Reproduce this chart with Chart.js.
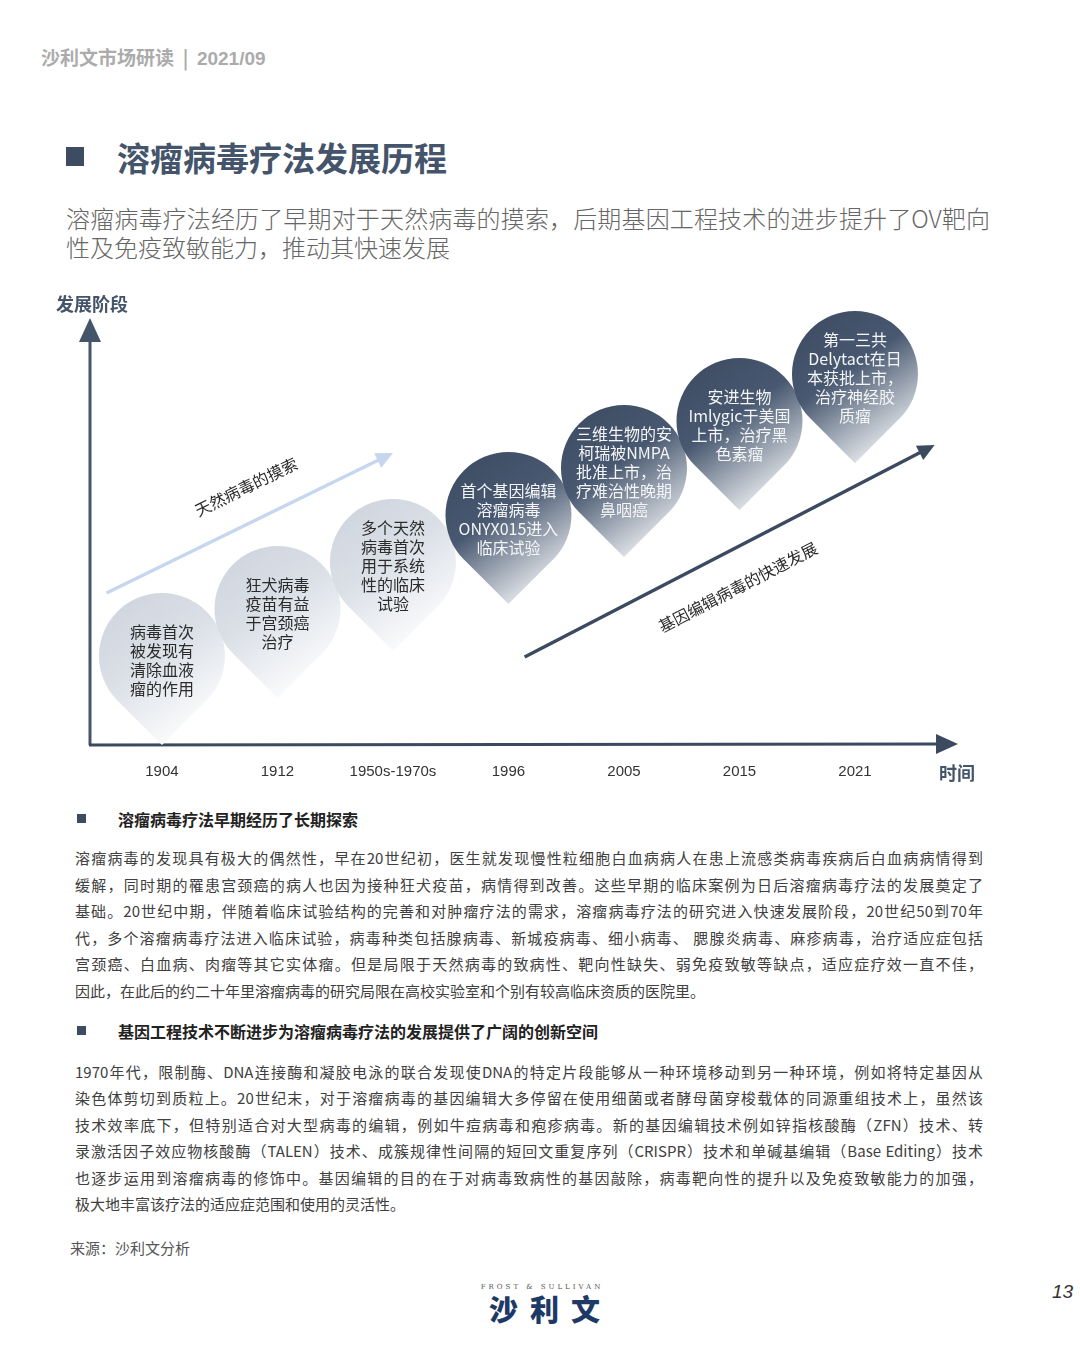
<!DOCTYPE html>
<html>
<head>
<meta charset="utf-8">
<script src="https://cdn.jsdelivr.net/npm/chart.js@4.4.0/dist/chart.umd.min.js"></script>
<style>
  html, body { margin:0; padding:0; background:#fff; }
  body { width:1080px; height:1348px; position:relative; overflow:hidden; font-family:"Noto Sans CJK SC","Noto Sans",sans-serif; }
  .abs { position:absolute; white-space:nowrap; }
  .jl { display:block; text-align:justify; text-align-last:justify; white-space:normal; }
  .last { text-align-last:left; }
  #chartWrap { position:absolute; left:0; top:280px; width:1080px; height:520px; }
</style>
</head>
<body>
<div class="abs" style="left:41px;top:44px;font-size:19px;line-height:26px;color:#ababab;font-weight:bold;">沙利文市场研读&nbsp;&nbsp;|&nbsp;&nbsp;<span style="font-family:'Liberation Sans',sans-serif;">2021/09</span></div>

<div class="abs" style="left:66px;top:147px;width:18px;height:19px;background:#3e4c62;"></div>
<div class="abs" style="left:117px;top:136px;font-size:33px;line-height:42px;color:#44546a;font-weight:bold;">溶瘤病毒疗法发展历程</div>

<div class="abs" style="left:66px;top:203px;width:924px;font-size:24px;line-height:29px;color:#666;font-weight:300;white-space:normal;">
  <span class="jl">溶瘤病毒疗法经历了早期对于天然病毒的摸索，后期基因工程技术的进步提升了OV靶向</span>
  <span class="jl last">性及免疫致敏能力，推动其快速发展</span>
</div>

<div id="chartWrap"><canvas id="c" width="1080" height="520"></canvas></div>

<div class="abs" style="left:56px;top:290px;font-size:18px;line-height:26px;color:#44546a;font-weight:bold;">发展阶段</div>
<div class="abs" style="left:939px;top:759px;font-size:18px;line-height:26px;color:#44546a;font-weight:bold;">时间</div>

<div class="abs" style="left:77px;top:814px;width:9px;height:9px;background:#3e4c62;"></div>
<div class="abs" style="left:118px;top:807px;font-size:16px;line-height:24px;color:#222;font-weight:bold;">溶瘤病毒疗法早期经历了长期探索</div>
<div class="abs" style="left:75px;top:845px;width:908px;font-size:15px;line-height:26.5px;color:#404040;white-space:normal;">
  <span class="jl">溶瘤病毒的发现具有极大的偶然性，早在20世纪初，医生就发现慢性粒细胞白血病病人在患上流感类病毒疾病后白血病病情得到</span>
  <span class="jl">缓解，同时期的罹患宫颈癌的病人也因为接种狂犬疫苗，病情得到改善。这些早期的临床案例为日后溶瘤病毒疗法的发展奠定了</span>
  <span class="jl">基础。20世纪中期，伴随着临床试验结构的完善和对肿瘤疗法的需求，溶瘤病毒疗法的研究进入快速发展阶段，20世纪50到70年</span>
  <span class="jl">代，多个溶瘤病毒疗法进入临床试验，病毒种类包括腺病毒、新城疫病毒、细小病毒、 腮腺炎病毒、麻疹病毒，治疗适应症包括</span>
  <span class="jl">宫颈癌、白血病、肉瘤等其它实体瘤。但是局限于天然病毒的致病性、靶向性缺失、弱免疫致敏等缺点，适应症疗效一直不佳，</span>
  <span class="jl last">因此，在此后的约二十年里溶瘤病毒的研究局限在高校实验室和个别有较高临床资质的医院里。</span>
</div>

<div class="abs" style="left:77px;top:1026px;width:9px;height:9px;background:#3e4c62;"></div>
<div class="abs" style="left:118px;top:1019px;font-size:16px;line-height:24px;color:#222;font-weight:bold;">基因工程技术不断进步为溶瘤病毒疗法的发展提供了广阔的创新空间</div>
<div class="abs" style="left:75px;top:1059px;width:908px;font-size:15px;line-height:26.4px;color:#404040;white-space:normal;">
  <span class="jl">1970年代，限制酶、DNA连接酶和凝胶电泳的联合发现使DNA的特定片段能够从一种环境移动到另一种环境，例如将特定基因从</span>
  <span class="jl">染色体剪切到质粒上。20世纪末，对于溶瘤病毒的基因编辑大多停留在使用细菌或者酵母菌穿梭载体的同源重组技术上，虽然该</span>
  <span class="jl">技术效率底下，但特别适合对大型病毒的编辑，例如牛痘病毒和疱疹病毒。新的基因编辑技术例如锌指核酸酶（ZFN）技术、转</span>
  <span class="jl">录激活因子效应物核酸酶（TALEN）技术、成簇规律性间隔的短回文重复序列（CRISPR）技术和单碱基编辑（Base Editing）技术</span>
  <span class="jl">也逐步运用到溶瘤病毒的修饰中。基因编辑的目的在于对病毒致病性的基因敲除，病毒靶向性的提升以及免疫致敏能力的加强，</span>
  <span class="jl last">极大地丰富该疗法的适应症范围和使用的灵活性。</span>
</div>

<div class="abs" style="left:70px;top:1236px;font-size:15px;line-height:24px;color:#555;">来源：沙利文分析</div>

<div class="abs" style="left:472px;top:1282px;width:140px;text-align:center;font-family:'DejaVu Serif',serif;font-size:7px;line-height:10px;letter-spacing:3px;color:#555;">FROST &amp; SULLIVAN</div>
<div class="abs" style="left:477px;top:1290px;width:126px;text-align:center;font-size:29px;line-height:36px;letter-spacing:12px;text-indent:12px;color:#1d3a66;font-weight:900;">沙利文</div>
<div class="abs" style="left:1052px;top:1280px;font-family:'Liberation Sans',sans-serif;font-style:italic;font-size:19px;line-height:24px;color:#333;">13</div>

<script>
// ---------- data ----------
const years = ['1904', '1912', '1950s-1970s', '1996', '2005', '2015', '2021'];
const stages = [1, 2, 3, 4, 5, 6, 7];
const pinTexts = [
  ['病毒首次', '被发现有', '清除血液', '瘤的作用'],
  ['狂犬病毒', '疫苗有益', '于宫颈癌', '治疗'],
  ['多个天然', '病毒首次', '用于系统', '性的临床', '试验'],
  ['首个基因编辑', '溶瘤病毒', 'ONYX015进入', '临床试验'],
  ['三维生物的安', '柯瑞被NMPA', '批准上市，治', '疗难治性晚期', '鼻咽癌'],
  ['安进生物', 'Imlygic于美国', '上市，治疗黑', '色素瘤'],
  ['第一三共', 'Delytact在日', '本获批上市，', '治疗神经胶', '质瘤']
];
const pinEra = ['natural', 'natural', 'natural', 'engineered', 'engineered', 'engineered', 'engineered'];
const trendLabels = ['天然病毒的摸索', '基因编辑病毒的快速发展'];
const trendStartX = [-0.48, 3.14];
const trendStartY = [2.34, 0.98];
const trendEndX = [2.0, 6.69];
const trendEndY = [5.32, 5.49];

// ---------- drawing helpers ----------
function arrowHead(ctx, x1, y1, x2, y2, len, half, color) {
  const a = Math.atan2(y2 - y1, x2 - x1);
  ctx.save();
  ctx.fillStyle = color;
  ctx.beginPath();
  ctx.moveTo(x2, y2);
  ctx.lineTo(x2 - len * Math.cos(a) + half * Math.sin(a), y2 - len * Math.sin(a) - half * Math.cos(a));
  ctx.lineTo(x2 - len * Math.cos(a) - half * Math.sin(a), y2 - len * Math.sin(a) + half * Math.cos(a));
  ctx.closePath();
  ctx.fill();
  ctx.restore();
}

const decor = {
  id: 'decor',
  beforeDatasetsDraw(chart) {
    const ctx = chart.ctx, ca = chart.chartArea;
    const xs = chart.scales.x, ys = chart.scales.y;
    // axes
    ctx.save();
    ctx.strokeStyle = '#44546a';
    ctx.lineWidth = 3;
    ctx.beginPath();
    ctx.moveTo(ca.left, ca.bottom);
    ctx.lineTo(ca.left, ca.top + 18);
    ctx.stroke();
    arrowHead(ctx, ca.left, ca.bottom, ca.left, ca.top - 2, 24, 11, '#44546a');
    ctx.strokeStyle = '#3c4a60';
    ctx.beginPath();
    ctx.moveTo(ca.left - 1, ca.bottom);
    ctx.lineTo(ca.right - 14, ca.bottom - 1);
    ctx.stroke();
    arrowHead(ctx, ca.left, ca.bottom, ca.right + 3, ca.bottom - 1, 22, 10, '#3c4a60');
    ctx.restore();

    // trend arrows
    const colors = ['#c6d6ee', '#3c4a60'];
    const offs = [-34, 36];
    const ts = [0.54, 0.48];
    for (let i = 0; i < trendLabels.length; i++) {
      const x1 = xs.getPixelForValue(trendStartX[i]), y1 = ys.getPixelForValue(trendStartY[i]);
      const x2 = xs.getPixelForValue(trendEndX[i]), y2 = ys.getPixelForValue(trendEndY[i]);
      const a = Math.atan2(y2 - y1, x2 - x1);
      ctx.save();
      ctx.strokeStyle = colors[i];
      ctx.lineWidth = 3.5;
      ctx.beginPath();
      ctx.moveTo(x1, y1);
      ctx.lineTo(x2 - 12 * Math.cos(a), y2 - 12 * Math.sin(a));
      ctx.stroke();
      arrowHead(ctx, x1, y1, x2, y2, 17, 8, colors[i]);
      // label
      const t = ts[i];
      const mx = x1 + (x2 - x1) * t, my = y1 + (y2 - y1) * t;
      const px = mx - Math.sin(a) * offs[i], py = my + Math.cos(a) * offs[i];
      ctx.translate(px, py);
      ctx.rotate(a);
      ctx.fillStyle = '#2b2b2b';
      ctx.font = '16px "Noto Sans CJK SC", sans-serif';
      ctx.textAlign = 'center';
      ctx.textBaseline = 'middle';
      ctx.fillText(trendLabels[i], 0, 0);
      ctx.restore();
    }
  },
  afterDatasetsDraw(chart) {
    const ctx = chart.ctx;
    const meta = chart.getDatasetMeta(0);
    const r = 63;
    meta.data.forEach((pt, i) => {
      const cx = pt.x, cy = pt.y;
      const dark = pinEra[i] === 'engineered';
      ctx.save();
      ctx.beginPath();
      ctx.moveTo(cx, cy + r * Math.SQRT2);
      ctx.arc(cx, cy, r, 0.75 * Math.PI, 0.25 * Math.PI, false);
      ctx.closePath();
      const g = ctx.createLinearGradient(cx - r * 0.75, cy - r * 0.75, cx + r * 0.65, cy + r * 1.25);
      if (dark) {
        g.addColorStop(0, '#3f4e65');
        g.addColorStop(0.38, '#485870');
        g.addColorStop(0.7, '#a3acb8');
        g.addColorStop(1, '#f7f8fa');
      } else {
        g.addColorStop(0, '#d0d6df');
        g.addColorStop(0.4, '#dbe0e7');
        g.addColorStop(1, '#ffffff');
      }
      ctx.fillStyle = g;
      ctx.fill();
      // text
      const lines = pinTexts[i];
      ctx.fillStyle = dark ? '#f4f5f7' : '#2b2b2b';
      ctx.font = '16px "Noto Sans CJK SC", sans-serif';
      ctx.textAlign = 'center';
      ctx.textBaseline = 'middle';
      const lh = 19;
      lines.forEach((s, k) => {
        ctx.fillText(s, cx, cy + 4 + (k - (lines.length - 1) / 2) * lh);
      });
      ctx.restore();
    });
  }
};

new Chart(document.getElementById('c'), {
  type: 'scatter',
  data: {
    datasets: [{
      data: stages.map((s, i) => ({ x: i, y: s })),
      pointRadius: 0,
      pointHoverRadius: 0
    }]
  },
  options: {
    responsive: false,
    devicePixelRatio: 1,
    animation: false,
    events: [],
    layout: { padding: { left: 90, right: 125, top: 40, bottom: 0 } },
    plugins: { legend: { display: false }, tooltip: { enabled: false } },
    scales: {
      x: {
        type: 'linear',
        min: -0.623,
        max: 6.866,
        grid: { display: false, drawTicks: false },
        border: { display: false },
        afterBuildTicks: (s) => { s.ticks = years.map((_, i) => ({ value: i })); },
        afterFit: (s) => { s.height = 55; },
        ticks: {
          autoSkip: false,
          maxRotation: 0,
          padding: 18,
          color: '#333',
          font: { family: '"Liberation Sans Narrow", "Liberation Sans", sans-serif', size: 15 },
          callback: (v) => years[v] !== undefined ? years[v] : ''
        }
      },
      y: {
        type: 'linear',
        display: false,
        min: -0.894,
        max: 8.15
      }
    }
  },
  plugins: [decor]
});
</script>
</body>
</html>
